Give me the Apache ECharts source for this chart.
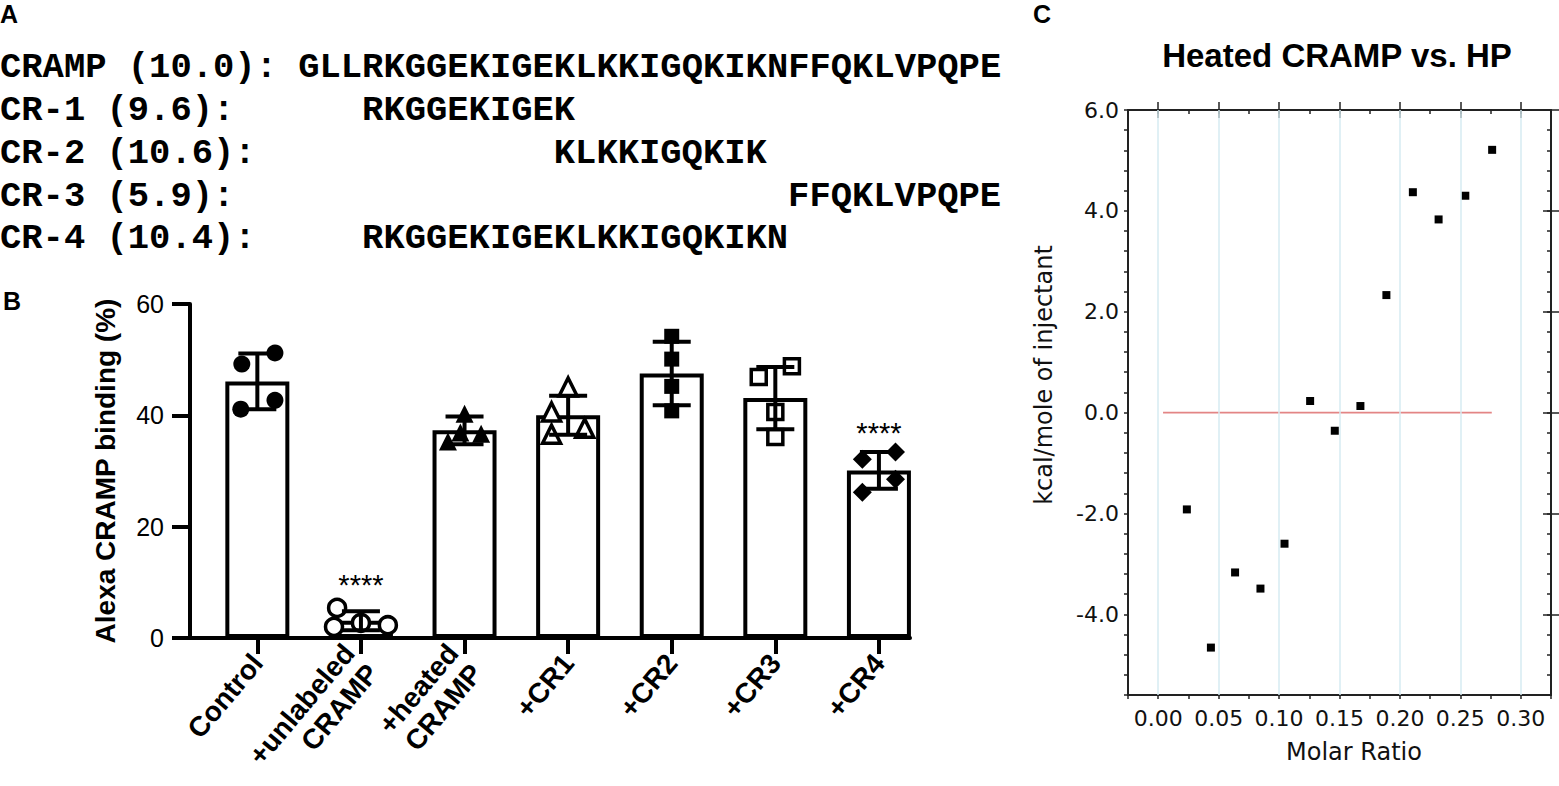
<!DOCTYPE html>
<html>
<head>
<meta charset="utf-8">
<title>CRAMP fragments: binding and ITC</title>
<script src="https://cdn.jsdelivr.net/npm/echarts@6/dist/echarts.min.js"></script>
<style>
  html, body { margin: 0; padding: 0; background: #fff; }
  #chart { width: 1559px; height: 786px; }
</style>
</head>
<body>
<div id="chart"></div>
<script>
// ---- panel A: peptides, pI, and residue offset inside CRAMP
const peptideNames = ['CRAMP', 'CR-1', 'CR-2', 'CR-3', 'CR-4']
const peptidePI = ['10.0', '9.6', '10.6', '5.9', '10.4']
const peptideSeqs = [
  'GLLRKGGEKIGEKLKKIGQKIKNFFQKLVPQPE',
  'RKGGEKIGEK',
  'KLKKIGQKIK',
  'FFQKLVPQPE',
  'RKGGEKIGEKLKKIGQKIKN'
]
const peptideStart = [0, 3, 12, 23, 3]

// ---- panel B: Alexa CRAMP binding (%)
const groups = ['Control', '+unlabeled\nCRAMP', '+heated\nCRAMP', '+CR1', '+CR2', '+CR3', '+CR4']
const means = [46.1, 3.1, 37.3, 40.0, 47.5, 43.1, 30.1]
const sds = [5.0, 1.7, 2.5, 3.5, 5.7, 5.6, 3.3]
const replicates = [
  [49.2, 51.2, 41.1, 42.7],
  [5.4, 2.0, 2.7, 2.3],
  [40.3, 35.3, 36.7, 36.9],
  [45.1, 40.6, 36.6, 37.7],
  [54.2, 50.1, 45.2, 40.8],
  [46.9, 48.8, 40.6, 36.1],
  [32.1, 33.4, 28.5, 26.2]
]
const jitter = [
  [-0.15, 0.17, -0.16, 0.17],
  [-0.23, -0.26, 0, 0.26],
  [0, -0.16, 0.16, -0.04],
  [0, -0.16, -0.16, 0.16],
  [0, 0, 0, 0],
  [-0.16, 0.16, 0, 0],
  [-0.16, 0.16, 0.16, -0.16]
]
const markers = ['circle', 'circle', 'triangle', 'triangle', 'rect', 'rect', 'diamond']
const markerSize = [17, 17, 18, 18, 15, 15, 19]
const filled = [true, false, true, false, true, false, true]
const sigGroups = [1, 6]
const sigY = [9.5, 36.8]
const bindingTicks = [0, 20, 40, 60]

// ---- panel C: heated CRAMP vs. HP (ITC)
const molarRatio = [0.0237, 0.0436, 0.0636, 0.0846, 0.1045, 0.1257, 0.1461, 0.1673, 0.1888, 0.2107, 0.2320, 0.2541, 0.2763]
const kcalPerMole = [-1.92, -4.66, -3.17, -3.49, -2.60, 0.23, -0.36, 0.13, 2.33, 4.37, 3.83, 4.30, 5.21]
const fitX = [0.004, 0.276]
const fitY = [0, 0]
const ratioTicks = [0, 0.05, 0.10, 0.15, 0.20, 0.25, 0.30]
const kcalTicks = [-4, -2, 0, 2, 4, 6]

const ARIAL = 'Liberation Sans'
const MONO = 'Liberation Mono'
const DEJAVU = 'DejaVu Sans'

const chart = echarts.init(document.getElementById('chart'), null, { renderer: 'svg' })

// panel A text rows
const charW = 21.3
const rowY = [67, 110, 153, 196, 238]
const seqGraphics = []
peptideNames.forEach((name, i) => {
  seqGraphics.push({
    type: 'text', x: 0, y: rowY[i],
    style: { text: name + ' (' + peptidePI[i] + '):', font: 'bold 35.5px "' + MONO + '"', fill: '#000', verticalAlign: 'middle' }
  })
  seqGraphics.push({
    type: 'text', x: (14 + peptideStart[i]) * charW, y: rowY[i],
    style: { text: peptideSeqs[i], font: 'bold 35.5px "' + MONO + '"', fill: '#000', verticalAlign: 'middle' }
  })
})

const panelLabel = (t, x, y) => ({
  type: 'text', x: x, y: y,
  style: { text: t, font: 'bold 25px "' + ARIAL + '"', fill: '#000', verticalAlign: 'middle' }
})

// scatter series for replicates, one per group
const replicateSeries = groups.map((g, i) => ({
  type: 'scatter',
  xAxisIndex: 0, yAxisIndex: 0,
  z: 3,
  symbol: markers[i],
  symbolSize: markerSize[i],
  data: replicates[i].map((v, k) => [i + jitter[i][k], v]),
  itemStyle: filled[i]
    ? { color: '#000', opacity: 1 }
    : { color: '#fff', borderColor: '#000', borderWidth: 3.5, opacity: 1 },
  silent: true
}))

const axisLineC = { show: true, onZero: false, lineStyle: { color: '#222', width: 2 } }
const noLine = { show: false, onZero: false }

const option = {
  backgroundColor: '#fff',
  animation: false,
  graphic: [
    panelLabel('A', 0, 14),
    panelLabel('B', 3, 301),
    panelLabel('C', 1033, 14),
    ...seqGraphics,
    {
      type: 'text', x: 1337, y: 55,
      style: { text: 'Heated CRAMP vs. HP', font: 'bold 33px "' + ARIAL + '"', fill: '#000', align: 'center', verticalAlign: 'middle' }
    },
    {
      type: 'text', x: 1044, y: 375, rotation: Math.PI / 2,
      style: { text: 'kcal/mole of injectant', font: '24px "' + DEJAVU + '"', fill: '#111', align: 'center', verticalAlign: 'middle' }
    },
    {
      type: 'text', x: 1354, y: 752,
      style: { text: 'Molar Ratio', font: '24px "' + DEJAVU + '"', fill: '#111', align: 'center', verticalAlign: 'middle' }
    }
  ],
  grid: [
    { left: 190, top: 304, width: 720, height: 334, outerBoundsMode: 'none' },
    { left: 1128, top: 110, width: 423, height: 585, outerBoundsMode: 'none' }
  ],
  xAxis: [
    {
      gridIndex: 0, type: 'value', min: -0.65, max: 6.3,
      axisLine: { show: true, onZero: false, lineStyle: { color: '#000', width: 4 } },
      axisTick: { show: true, customValues: groups.map((g, i) => i), length: 16, lineStyle: { color: '#000', width: 4 } },
      axisLabel: {
        customValues: groups.map((g, i) => i),
        formatter: v => groups[v] || '',
        rotate: 50, margin: 20,
        fontFamily: ARIAL, fontWeight: 'bold', fontSize: 28, lineHeight: 31, color: '#000'
      },
      splitLine: { show: false }
    },
    {
      gridIndex: 1, type: 'value', min: -0.025, max: 0.325, interval: 0.025,
      axisLine: axisLineC,
      axisTick: { show: true, inside: false, length: 4, lineStyle: { color: '#222', width: 1.5 } },
      axisLabel: {
        customValues: ratioTicks, formatter: v => v.toFixed(2),
        fontFamily: DEJAVU, fontSize: 22, color: '#111', margin: 12
      },
      splitLine: { show: false }
    },
    {
      gridIndex: 1, type: 'value', min: -0.025, max: 0.325,
      axisLine: noLine,
      axisTick: { show: true, customValues: ratioTicks, length: 8, lineStyle: { color: '#222', width: 1.5 } },
      axisLabel: { show: false },
      splitLine: { show: false }
    },
    {
      gridIndex: 1, type: 'value', position: 'top', min: -0.025, max: 0.325, interval: 0.025,
      axisLine: axisLineC,
      axisTick: { show: true, inside: true, length: 4, lineStyle: { color: '#222', width: 1.5 } },
      axisLabel: { show: false },
      splitLine: { show: false }
    },
    {
      gridIndex: 1, type: 'value', position: 'top', min: -0.025, max: 0.325,
      axisLine: noLine,
      axisTick: { show: true, inside: true, customValues: ratioTicks, length: 8, lineStyle: { color: '#222', width: 1.5 } },
      axisLabel: { show: false },
      splitLine: { show: false }
    }
  ],
  yAxis: [
    {
      gridIndex: 0, type: 'value', min: 0, max: 60, interval: 20,
      name: 'Alexa CRAMP binding (%)', nameLocation: 'middle', nameGap: 71,
      nameTextStyle: { fontFamily: ARIAL, fontWeight: 'bold', fontSize: 28, color: '#000' },
      axisLine: { show: true, onZero: false, lineStyle: { color: '#000', width: 4 } },
      axisTick: { show: true, length: 18, lineStyle: { color: '#000', width: 4 } },
      axisLabel: { customValues: bindingTicks, fontFamily: ARIAL, fontSize: 25, color: '#000', margin: 26 },
      splitLine: { show: false }
    },
    {
      gridIndex: 1, type: 'value', min: -5.6, max: 6.0, interval: 0.4,
      axisLine: axisLineC,
      axisTick: { show: true, length: 4, lineStyle: { color: '#222', width: 1.5 } },
      axisLabel: {
        customValues: kcalTicks, formatter: v => v.toFixed(1),
        fontFamily: DEJAVU, fontSize: 22, color: '#111', margin: 9
      },
      splitLine: { show: false }
    },
    {
      gridIndex: 1, type: 'value', min: -5.6, max: 6.0,
      axisLine: noLine,
      axisTick: { show: true, customValues: kcalTicks, length: 8, lineStyle: { color: '#222', width: 1.5 } },
      axisLabel: { show: false },
      splitLine: { show: false }
    },
    {
      gridIndex: 1, type: 'value', position: 'right', min: -5.6, max: 6.0, interval: 0.4,
      axisLine: axisLineC,
      axisTick: { show: true, inside: true, length: 4, lineStyle: { color: '#222', width: 1.5 } },
      axisLabel: { show: false },
      splitLine: { show: false }
    },
    {
      gridIndex: 1, type: 'value', position: 'right', min: -5.6, max: 6.0,
      axisLine: noLine,
      axisTick: { show: true, inside: true, customValues: kcalTicks, length: 8, lineStyle: { color: '#222', width: 1.5 } },
      axisLabel: { show: false },
      splitLine: { show: false }
    }
  ],
  series: [
    {
      type: 'bar',
      xAxisIndex: 0, yAxisIndex: 0,
      z: 2,
      barWidth: 64,
      data: means.map((m, i) => [i, m]),
      itemStyle: { color: '#fff', borderColor: '#000', borderWidth: 4 },
      silent: true
    },
    ...replicateSeries,
    {
      type: 'custom',
      xAxisIndex: 0, yAxisIndex: 0,
      z: 4,
      data: means.map((m, i) => [i, m - sds[i], m + sds[i]]),
      encode: { x: 0, y: [1, 2] },
      renderItem: (params, api) => {
        const x = api.value(0)
        const lo = api.coord([x, api.value(1)])
        const hi = api.coord([x, api.value(2)])
        const half = 19
        const st = { stroke: '#000', lineWidth: 4 }
        return {
          type: 'group',
          children: [
            { type: 'line', shape: { x1: hi[0], y1: hi[1], x2: lo[0], y2: lo[1] }, style: st },
            { type: 'line', shape: { x1: hi[0] - half, y1: hi[1], x2: hi[0] + half, y2: hi[1] }, style: st },
            { type: 'line', shape: { x1: lo[0] - half, y1: lo[1], x2: lo[0] + half, y2: lo[1] }, style: st }
          ]
        }
      },
      silent: true
    },
    {
      type: 'scatter',
      xAxisIndex: 0, yAxisIndex: 0,
      z: 5,
      symbolSize: 0,
      data: sigGroups.map((g, k) => [g, sigY[k]]),
      itemStyle: { opacity: 1 },
      label: {
        show: true, position: 'inside', formatter: '****',
        fontFamily: ARIAL, fontSize: 29, color: '#000'
      },
      silent: true
    },
    {
      type: 'line',
      xAxisIndex: 1, yAxisIndex: 1,
      z: 2,
      symbol: 'none',
      data: fitX.map((x, i) => [x, fitY[i]]),
      lineStyle: { color: '#e38585', width: 1.6 },
      markLine: {
        silent: true,
        symbol: ['none', 'none'],
        label: { show: false },
        lineStyle: { color: '#d6ebf2', width: 1.5, type: 'solid' },
        data: ratioTicks.map(v => ({ xAxis: v }))
      },
      silent: true
    },
    {
      type: 'scatter',
      xAxisIndex: 1, yAxisIndex: 1,
      z: 4,
      symbol: 'rect',
      symbolSize: 8,
      data: molarRatio.map((x, i) => [x, kcalPerMole[i]]),
      itemStyle: { color: '#000', opacity: 1 },
      silent: true
    }
  ]
}

chart.setOption(option)
</script>
</body>
</html>
